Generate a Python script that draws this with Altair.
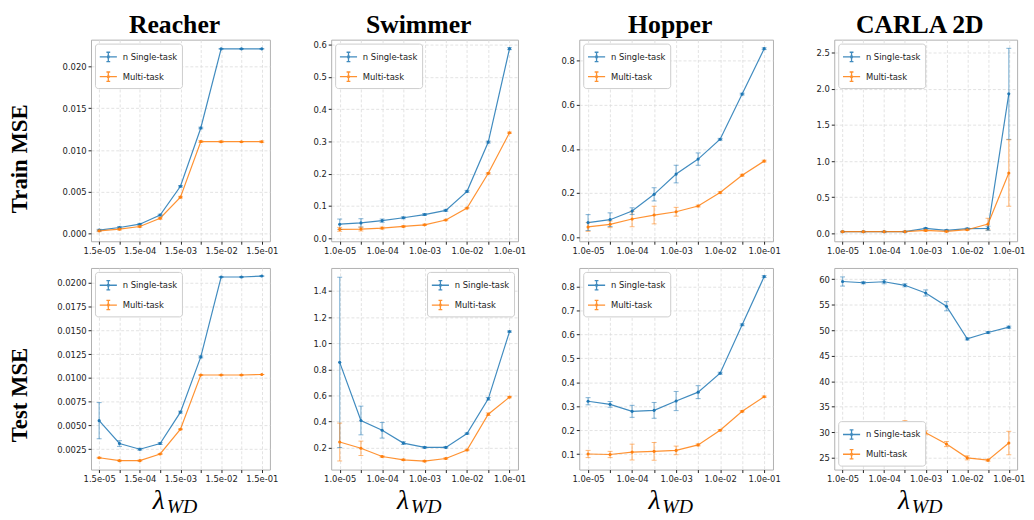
import altair as alt
import pandas as pd

SERIES = ["n Single-task", "Multi-task"]
COLORS = ["#1f77b4", "#ff7f0e"]
X_INDEX = [0, 1, 2, 3, 4, 5, 6, 7, 8]
LABELS_REACHER = ["1.5e-05", "", "1.5e-04", "", "1.5e-03", "", "1.5e-02", "", "1.5e-01"]
LABELS_OTHER = ["1.0e-05", "", "1.0e-04", "", "1.0e-03", "", "1.0e-02", "", "1.0e-01"]
ENVS = ["Reacher", "Swimmer", "Hopper", "CARLA 2D"]
ROWS = ["Train MSE", "Test MSE"]

# ---------------- Train MSE ----------------
REACHER_TRAIN_S = [0.00043, 0.00075, 0.00114, 0.00224, 0.00567, 0.01264, 0.0221, 0.0221, 0.0221]
REACHER_TRAIN_S_ERR = [0.0001, 0.0001, 0.0001, 0.0001, 0.0001, 0.0001, 0.0, 0.0, 0.0]
REACHER_TRAIN_M = [0.00035, 0.00055, 0.00087, 0.00185, 0.00437, 0.01102, 0.0110, 0.0110, 0.0110]
REACHER_TRAIN_M_ERR = [0.0001, 0.0001, 0.0001, 0.0001, 0.0001, 0.0001, 0.0001, 0.0, 0.0001]

SWIMMER_TRAIN_S = [0.043, 0.047, 0.054, 0.063, 0.073, 0.086, 0.145, 0.298, 0.588]
SWIMMER_TRAIN_S_ERR = [0.016, 0.013, 0.005, 0.003, 0.003, 0.003, 0.003, 0.003, 0.003]
SWIMMER_TRAIN_M = [0.027, 0.028, 0.031, 0.036, 0.041, 0.056, 0.093, 0.201, 0.327]
SWIMMER_TRAIN_M_ERR = [0.006, 0.006, 0.003, 0.002, 0.002, 0.002, 0.002, 0.002, 0.002]

HOPPER_TRAIN_S = [0.066, 0.079, 0.118, 0.194, 0.286, 0.354, 0.444, 0.649, 0.855]
HOPPER_TRAIN_S_ERR = [0.036, 0.031, 0.015, 0.030, 0.040, 0.028, 0.004, 0.004, 0.004]
HOPPER_TRAIN_M = [0.046, 0.058, 0.082, 0.100, 0.115, 0.141, 0.202, 0.281, 0.345]
HOPPER_TRAIN_M_ERR = [0.020, 0.015, 0.035, 0.040, 0.020, 0.004, 0.004, 0.004, 0.004]

CARLA_TRAIN_S = [0.023, 0.023, 0.023, 0.023, 0.068, 0.040, 0.064, 0.068, 1.93]
CARLA_TRAIN_S_ERR = [0.005, 0.005, 0.005, 0.005, 0.01, 0.01, 0.01, 0.03, 0.63]
CARLA_TRAIN_M = [0.023, 0.023, 0.023, 0.023, 0.040, 0.027, 0.050, 0.128, 0.835]
CARLA_TRAIN_M_ERR = [0.005, 0.005, 0.005, 0.005, 0.01, 0.01, 0.01, 0.08, 0.46]

# ---------------- Test MSE ----------------
REACHER_TEST_S = [0.0055, 0.0031, 0.0025, 0.0031, 0.0064, 0.0122, 0.0206, 0.0206, 0.0207]
REACHER_TEST_S_ERR = [0.0019, 0.0003, 0.0001, 0.0001, 0.0001, 0.0001, 0.0, 0.0, 0.0]
REACHER_TEST_M = [0.0016, 0.0013, 0.0013, 0.0020, 0.0046, 0.0103, 0.0103, 0.0103, 0.01035]
REACHER_TEST_M_ERR = [0.00005, 0.00005, 0.00005, 0.00005, 0.00005, 0.00005, 0.0, 0.0, 0.0]

SWIMMER_TEST_S = [0.853, 0.408, 0.333, 0.235, 0.202, 0.202, 0.308, 0.574, 1.089]
SWIMMER_TEST_S_ERR = [0.652, 0.11, 0.06, 0.01, 0.005, 0.005, 0.005, 0.01, 0.005]
SWIMMER_TEST_M = [0.243, 0.195, 0.132, 0.107, 0.097, 0.117, 0.182, 0.456, 0.587]
SWIMMER_TEST_M_ERR = [0.145, 0.055, 0.005, 0.005, 0.005, 0.005, 0.005, 0.01, 0.005]

HOPPER_TEST_S = [0.321, 0.308, 0.279, 0.283, 0.322, 0.359, 0.438, 0.640, 0.841]
HOPPER_TEST_S_ERR = [0.015, 0.012, 0.025, 0.033, 0.040, 0.027, 0.004, 0.004, 0.004]
HOPPER_TEST_M = [0.101, 0.099, 0.109, 0.112, 0.116, 0.139, 0.200, 0.279, 0.340]
HOPPER_TEST_M_ERR = [0.015, 0.013, 0.033, 0.037, 0.018, 0.004, 0.003, 0.003, 0.003]

CARLA_TEST_S = [59.55, 59.3, 59.5, 58.8, 57.3, 54.7, 48.3, 49.55, 50.6]
CARLA_TEST_S_ERR = [0.9, 0.2, 0.4, 0.3, 0.6, 0.9, 0.2, 0.2, 0.2]
CARLA_TEST_M = [30.8, 31.1, 30.8, 31.6, 29.9, 27.7, 25.0, 24.55, 27.9]
CARLA_TEST_M_ERR = [0.2, 0.2, 0.3, 0.7, 0.4, 0.5, 0.4, 0.2, 2.3]

# y axis ranges / ticks per panel
Y_DOMAINS = [
    [[-0.0009, 0.0232], [-0.010, 0.616], [-0.019, 0.896], [-0.11, 2.68]],
    [[0.00036, 0.02155], [0.032, 1.576], [0.036, 0.877], [22.7, 62.2]],
]
Y_TICKS = [
    [[0.0, 0.005, 0.010, 0.015, 0.020], [0.0, 0.1, 0.2, 0.3, 0.4, 0.5, 0.6],
     [0.0, 0.2, 0.4, 0.6, 0.8], [0.0, 0.5, 1.0, 1.5, 2.0, 2.5]],
    [[0.0025, 0.0050, 0.0075, 0.0100, 0.0125, 0.0150, 0.0175, 0.0200],
     [0.2, 0.4, 0.6, 0.8, 1.0, 1.2, 1.4],
     [0.1, 0.2, 0.3, 0.4, 0.5, 0.6, 0.7, 0.8],
     [25, 30, 35, 40, 45, 50, 55, 60]],
]
Y_FORMATS = [[".3f", ".1f", ".1f", ".1f"], [".4f", ".1f", ".1f", "d"]]
LEGEND_ORIENT = [["top-left"] * 4, ["top-left", "top-right", "top-left", "bottom-left"]]

PANEL_DATA = [
    [
        (REACHER_TRAIN_S, REACHER_TRAIN_S_ERR, REACHER_TRAIN_M, REACHER_TRAIN_M_ERR),
        (SWIMMER_TRAIN_S, SWIMMER_TRAIN_S_ERR, SWIMMER_TRAIN_M, SWIMMER_TRAIN_M_ERR),
        (HOPPER_TRAIN_S, HOPPER_TRAIN_S_ERR, HOPPER_TRAIN_M, HOPPER_TRAIN_M_ERR),
        (CARLA_TRAIN_S, CARLA_TRAIN_S_ERR, CARLA_TRAIN_M, CARLA_TRAIN_M_ERR),
    ],
    [
        (REACHER_TEST_S, REACHER_TEST_S_ERR, REACHER_TEST_M, REACHER_TEST_M_ERR),
        (SWIMMER_TEST_S, SWIMMER_TEST_S_ERR, SWIMMER_TEST_M, SWIMMER_TEST_M_ERR),
        (HOPPER_TEST_S, HOPPER_TEST_S_ERR, HOPPER_TEST_M, HOPPER_TEST_M_ERR),
        (CARLA_TEST_S, CARLA_TEST_S_ERR, CARLA_TEST_M, CARLA_TEST_M_ERR),
    ],
]

WIDTHS = [181, 189, 196, 185]
HEIGHT = 204
LEGEND_SYMBOL = ("M-1,0L1,0M0,-0.55L0,0.55M-0.22,-0.55L0.22,-0.55"
                 "M-0.22,0.55L0.22,0.55M-0.08,-0.08L0.08,-0.08L0.08,0.08L-0.08,0.08Z")
FONT = "DejaVu Sans"
SERIF = "Liberation Serif"


def panel(r, c):
    s, se, m, me = PANEL_DATA[r][c]
    rows = []
    for name, col, vals, errs in ((SERIES[0], COLORS[0], s, se), (SERIES[1], COLORS[1], m, me)):
        for i, v, e in zip(X_INDEX, vals, errs):
            rows.append({"x": i, "y": v, "lo": v - e, "hi": v + e, "series": name, "c": col})
    df = pd.DataFrame(rows)
    w, h = WIDTHS[c], HEIGHT
    labels = LABELS_REACHER if c == 0 else LABELS_OTHER
    label_expr = "[" + ",".join("'%s'" % t for t in labels) + "][datum.value]"

    xscale = alt.Scale(domain=[-0.4, 8.4], nice=False, zero=False)
    yscale = alt.Scale(domain=Y_DOMAINS[r][c], nice=False, zero=False)
    xaxis = alt.Axis(values=X_INDEX, labelExpr=label_expr, title=None, labelOverlap=False,
                     labelFlush=False)
    yaxis_kw = dict(values=Y_TICKS[r][c], format=Y_FORMATS[r][c], labelOverlap=False,
                    labelFlush=False)
    if c == 0:
        yaxis_kw.update(title=ROWS[r], titleFont=SERIF, titleFontSize=23, titleFontWeight="bold",
                        titleColor="black", titlePadding=18, minExtent=42, maxExtent=42,
                        titleY=h / 2 + (18 if r == 0 else 26))
    else:
        yaxis_kw.update(title=None)
    yaxis = alt.Axis(**yaxis_kw)

    base = alt.Chart(df)
    xe = alt.X("x:Q", scale=xscale, axis=xaxis)
    ident = alt.Color("c:N", scale=None)

    def ye(field):
        return alt.Y(field, type="quantitative", scale=yscale, axis=yaxis)

    line = base.mark_line(strokeWidth=1.2, opacity=0.85).encode(
        x=xe,
        y=ye("y"),
        color=alt.Color("series:N", scale=alt.Scale(domain=SERIES, range=COLORS),
                        legend=alt.Legend(title=None, orient=LEGEND_ORIENT[r][c], offset=4,
                                          fillColor="white", strokeColor="#cccccc",
                                          cornerRadius=3, padding=4, labelFont=FONT,
                                          labelFontSize=8.5, labelColor="#222222",
                                          symbolType=LEGEND_SYMBOL, symbolSize=300,
                                          symbolStrokeWidth=1.3, rowPadding=3, labelOffset=5)),
    )
    bars = base.mark_rule(strokeWidth=1.4, opacity=0.45).encode(
        x=xe, y=ye("lo"), y2="hi:Q", color=ident)
    cap_lo = base.mark_tick(orient="horizontal", size=5, thickness=1, opacity=0.55).encode(
        x=xe, y=ye("lo"), color=ident)
    cap_hi = base.mark_tick(orient="horizontal", size=5, thickness=1, opacity=0.55).encode(
        x=xe, y=ye("hi"), color=ident)
    pts = base.mark_circle(size=10, opacity=1).encode(x=xe, y=ye("y"), color=ident)

    layers = [line, bars, cap_lo, cap_hi, pts]
    if r == 1:
        lam = alt.Chart(pd.DataFrame({"t": ["λ"]})).mark_text(
            font=SERIF, fontStyle="italic", fontSize=28, align="left", baseline="alphabetic",
            color="black").encode(x=alt.value(w / 2 - 28), y=alt.value(h + 40), text="t:N")
        sub = alt.Chart(pd.DataFrame({"t": ["WD"]})).mark_text(
            font=SERIF, fontStyle="italic", fontSize=20, align="left", baseline="alphabetic",
            color="black").encode(x=alt.value(w / 2 - 14), y=alt.value(h + 44), text="t:N")
        layers += [lam, sub]
    ch = alt.layer(*layers).properties(width=w, height=h)
    if r == 0:
        ch = ch.properties(title=alt.TitleParams(text=ENVS[c], font=SERIF, fontSize=26,
                                                 fontWeight="bold", color="black", frame="group",
                                                 anchor="middle", offset=2, dx=-6))
    return ch


panels = [panel(r, c) for r in range(2) for c in range(4)]

chart = alt.concat(*panels, columns=4, spacing={"row": 27, "column": 62},
                   bounds="flush").resolve_scale(color="independent").properties(
    padding=0).configure_view(stroke="#b0b0b0", strokeWidth=1).configure_axis(
    labelFont=FONT, labelFontSize=8.5, labelColor="#222222", tickColor="#222222",
    tickSize=3, labelPadding=2, domain=False, gridColor="#dcdcdc", gridDash=[3, 2],
    gridWidth=0.8)

chart.save("out.html", embed_options={"renderer": "svg", "actions": False})
